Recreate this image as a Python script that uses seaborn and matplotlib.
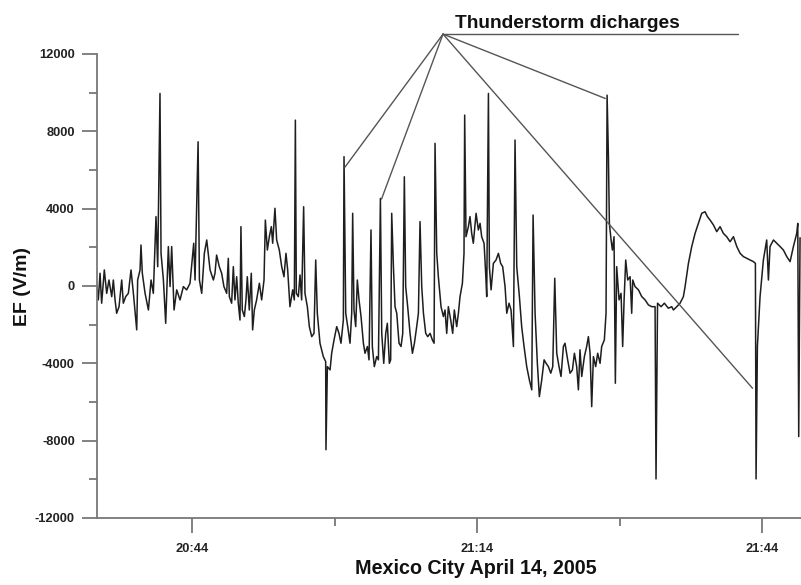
import numpy as np
import pandas as pd
import matplotlib
matplotlib.use("Agg")
import matplotlib.pyplot as plt
import seaborn as sns

# time in minutes after 20:00, electric field in V/m
t_min = [
    34.0, 34.14, 34.32, 34.49, 34.77, 35.02, 35.26, 35.55, 35.72, 35.90, 36.07, 36.32, 36.60, 36.77,
    37.02, 37.30, 37.58, 37.83, 38.18, 38.28, 38.53, 38.63, 38.77, 39.06, 39.41, 39.69, 39.93, 40.21,
    40.39, 40.63, 40.74, 40.99, 41.23, 41.51, 41.69, 41.86, 42.11, 42.39, 42.74, 43.09, 43.44, 43.79,
    44.18, 44.32, 44.64, 44.78, 45.02, 45.30, 45.55, 45.90, 46.25,
    46.42, 46.59, 46.87, 47.12, 47.36, 47.65, 47.82, 47.93, 48.17, 48.35, 48.52, 48.70, 48.87, 49.05,
    49.15, 49.29, 49.51, 49.68, 49.82, 50.03, 50.24, 50.38, 50.56, 50.80, 51.09, 51.33, 51.58, 51.72,
    51.93, 52.14, 52.35, 52.49, 52.73, 52.91, 53.19, 53.44, 53.68, 53.89, 54.07, 54.31, 54.60, 54.77,
    54.88, 54.98, 55.19, 55.37, 55.54, 55.75, 55.89, 56.14, 56.35, 56.60, 56.84, 57.02, 57.19, 57.47,
    57.82, 58.07, 58.10, 58.25,
    58.53, 58.70, 58.95, 59.23, 59.47, 59.68, 59.93, 60.00, 60.18, 60.39, 60.63, 60.81, 60.91, 61.05,
    61.23, 61.40, 61.58, 61.79, 62.04, 62.21, 62.46, 62.63, 62.84, 62.98, 63.19, 63.44, 63.62, 63.83,
    63.97, 64.18, 64.39, 64.56, 64.77, 64.91, 65.02, 65.20, 65.37, 65.55, 65.79, 66.00, 66.18, 66.35,
    66.49, 66.70, 66.95, 67.20, 67.41, 67.65, 67.83, 68.00, 68.18, 68.36, 68.60, 68.81, 69.06, 69.30,
    69.48, 69.58, 69.76, 69.93, 70.21, 70.46,
    70.63, 70.81, 70.98, 71.23, 71.44, 71.61, 71.86, 72.04, 72.21, 72.46, 72.63, 72.70, 72.84, 73.09,
    73.26, 73.44, 73.61, 73.90, 74.14, 74.32, 74.49, 74.74, 74.91, 75.02, 75.20, 75.30, 75.48, 75.72,
    76.00, 76.25, 76.49, 76.70, 76.95, 77.13, 77.37, 77.58, 77.83, 78.00, 78.18, 78.46, 78.70, 78.95,
    79.23, 79.51, 79.76, 79.90, 80.11, 80.35, 80.56, 80.81, 81.06, 81.27, 81.51, 81.76, 81.97, 82.18,
    82.39,
    82.63, 82.84, 83.09, 83.26, 83.54, 83.79, 84.04, 84.25, 84.49, 84.67, 84.84, 85.02, 85.30, 85.54,
    85.72, 85.90, 86.07, 86.25, 86.49, 86.70, 86.95, 87.12, 87.40, 87.58, 87.69, 87.83, 87.93, 88.11,
    88.25, 88.42, 88.56, 88.70, 88.95, 89.16, 89.33, 89.48, 89.65, 89.86, 90.11, 90.28, 90.39, 90.63,
    90.99, 91.34, 91.69, 92.04, 92.39, 92.74, 92.84, 93.00, 93.37, 93.72, 94.14, 94.49,
    94.67, 95.02, 95.37, 95.72, 95.90, 96.25, 96.60, 96.95, 97.30, 97.65, 98.00, 98.25, 98.53, 98.88,
    99.23, 99.58, 99.93, 100.28, 100.63, 100.99, 101.34, 101.69, 102.04, 102.39, 102.74, 103.09,
    103.30, 103.37, 103.51, 103.79, 104.14, 104.49, 104.67, 104.84, 105.20, 105.55, 105.90, 106.25,
    106.60, 106.95, 107.30, 107.65, 107.76, 107.86, 108.00,
]
ef_vals = [
    0, -720, 660, -890, 830, -380, 310, -550, 310, -720, -1410, -1070, 310, -890,
    -550, -380, 830, -380, -2270, 310, 830, 2120, 660, -380, -1240, 310, -380, 3590,
    1000, 9960, 1690, 310, -1930, 2040, -30, 2040, -1240, -200, -720, -30, -200, 140,
    2210, 310, 7460, 310, -380, 1690, 2380, 830, 310,
    660, 1600, 1000, 660, -30, -380, 1430, -550, -890, 1000, -720, 480, -890, -1760,
    3070, -1240, -1580, -720, 480, -1240, 660, -2270, -1240, -720, 140, -720, 310, 3410,
    1860, 2550, 3070, 2210, 4020, 2380, 1860, 1000, 480, 1690, 830, -1070, -200, -720,
    8580, -380, -550, 570, -720, 4100, -380, -1070, -2100, -2620, -2450, 1345, -1410, -2960,
    -3650, -3910, -8470, -4170,
    -4340, -3480, -2790, -2100, -2450, -2960, -1760, 6690, -1410, -2100, -2960, -1410, 3760, -1240,
    -2100, 310, -720, -1580, -2960, -3480, -3130, -3820, 2900, -3130, -4170, -3650, -3820, 4530,
    -2450, -4000, -2450, -1930, -4000, -3820, 3760, 1000, -1070, -1410, -2960, -3130, -2450, 5650,
    -30, -1070, -2450, -3480, -2960, -2100, -1410, 3330, -30, -1410, -2450, -2620, -2450, -2790,
    -2960, 7380, 1690, 480, -1070, -1580,
    -1240, -2450, -1070, -1760, -2450, -1240, -2100, -1410, -550, 140, 1690, 8840, 2550, 3070,
    3590, 2720, 2210, 3760, 2900, 3240, 2550, 2210, 660, -550, 9960, 1000, -200, 1170,
    1345, 1690, 1170, 1000, -30, -1410, -890, -1240, -3130, 7550, 1000, -550, -2100, -3130,
    -4170, -4860, -5370, 3670, -1410, -4000, -5720, -4860, -3820, -4000, -4170, -4510, -4170, 400,
    -3480,
    -4170, -4680, -3130, -2960, -3820, -4510, -4340, -3480, -4170, -5370, -3300, -4680, -3650, -3130,
    -2620, -3480, -6240, -3650, -4170, -3480, -4000, -3130, -2790, -1410, 9870, 6690, 3240, 2380,
    1860, 2550, -5030, 1000, -720, -380, -3130, -720, 1345, 310, 480, -1410, 310, -30,
    -200, -550, -720, -980, -1070, -1070, -9980, -890, -1070, -890, -1150, -1070,
    -1240, -1070, -890, -550, -30, 1170, 2040, 2720, 3240, 3760, 3840, 3590, 3410, 3160,
    2810, 3070, 2720, 2550, 2290, 2550, 2040, 1690, 1520, 1430, 1345, 1260,
    1170, -9980, -3130, -550, 1345, 2380, 310, 2040, 2380, 2210, 2040, 1860,
    1520, 1260, 2040, 2720, 3240, -7790, 2500,
]

y_ticks = [12000, 8000, 4000, 0, -4000, -8000, -12000]
y_tick_labels = ["12000", "8000", "4000", "0", "-4000", "-8000", "-12000"]
y_minor = [10000, 6000, 2000, -2000, -6000, -10000]
x_ticks = [44, 74, 104]
x_tick_labels = ["20:44", "21:14", "21:44"]
x_minor = [59, 89]

# annotation: apex and the discharges it points to
apex = (70.42, 13030)
targets_t = [60.1, 63.95, 87.5, 103.0]
targets_v = [6150, 4500, 9700, -5290]
hline_end_t = 101.47
title_text = "Thunderstorm dicharges"

sns.set_style("white")
plt.rcParams["font.family"] = ["Liberation Sans", "DejaVu Sans"]

df = pd.DataFrame({"t": t_min, "EF": ef_vals})

fig = plt.figure(figsize=(8.01, 5.85), dpi=100)
ax = fig.add_axes([97 / 801, 1 - 518 / 585, 1 - 97 / 801, (518 - 54) / 585])

sns.lineplot(data=df, x="t", y="EF", ax=ax, estimator=None, sort=False,
             color="#1e1e1e", linewidth=1.1)

ax.set_xlim(34, 108.1)
ax.set_ylim(-12000, 12000)

for s in ["top", "right"]:
    ax.spines[s].set_visible(False)
for s in ["left", "bottom"]:
    ax.spines[s].set_color("#777777")
    ax.spines[s].set_linewidth(1.3)

ax.set_yticks(y_ticks)
ax.set_yticklabels(y_tick_labels)
ax.set_yticks(y_minor, minor=True)
ax.set_xticks(x_ticks)
ax.set_xticklabels(x_tick_labels)
ax.set_xticks(x_minor, minor=True)

ax.tick_params(axis="both", which="major", length=11, width=1.3, color="#777777",
               direction="out", labelsize=9.3, pad=5)
ax.tick_params(axis="both", which="minor", length=5.5, width=1.3, color="#777777",
               direction="out")
ax.tick_params(axis="x", which="major", pad=7)
ax.tick_params(left=True, bottom=True, which="both")
for lab in ax.get_xticklabels() + ax.get_yticklabels():
    lab.set_fontweight("bold")
    lab.set_color("#222222")

ax.set_xlabel("Mexico City April 14, 2005", fontsize=14.2, fontweight="bold", labelpad=3,
              color="#111111")
ax.xaxis.label.set_x((476 - 97) / 704)
ax.set_ylabel("EF (V/m)", fontsize=14, fontweight="bold", labelpad=3, color="#111111")

# annotation lines
ax.plot([apex[0], hline_end_t], [apex[1], apex[1]], color="#555555", lw=1.0, clip_on=False)
for tt, vv in zip(targets_t, targets_v):
    ax.plot([apex[0], tt], [apex[1], vv], color="#555555", lw=1.0, clip_on=False)
ax.text(71.68, 13340, title_text, fontsize=13.8, fontweight="bold", va="baseline",
        ha="left", color="#111111", clip_on=False)

fig.savefig("out.png", dpi=100)
